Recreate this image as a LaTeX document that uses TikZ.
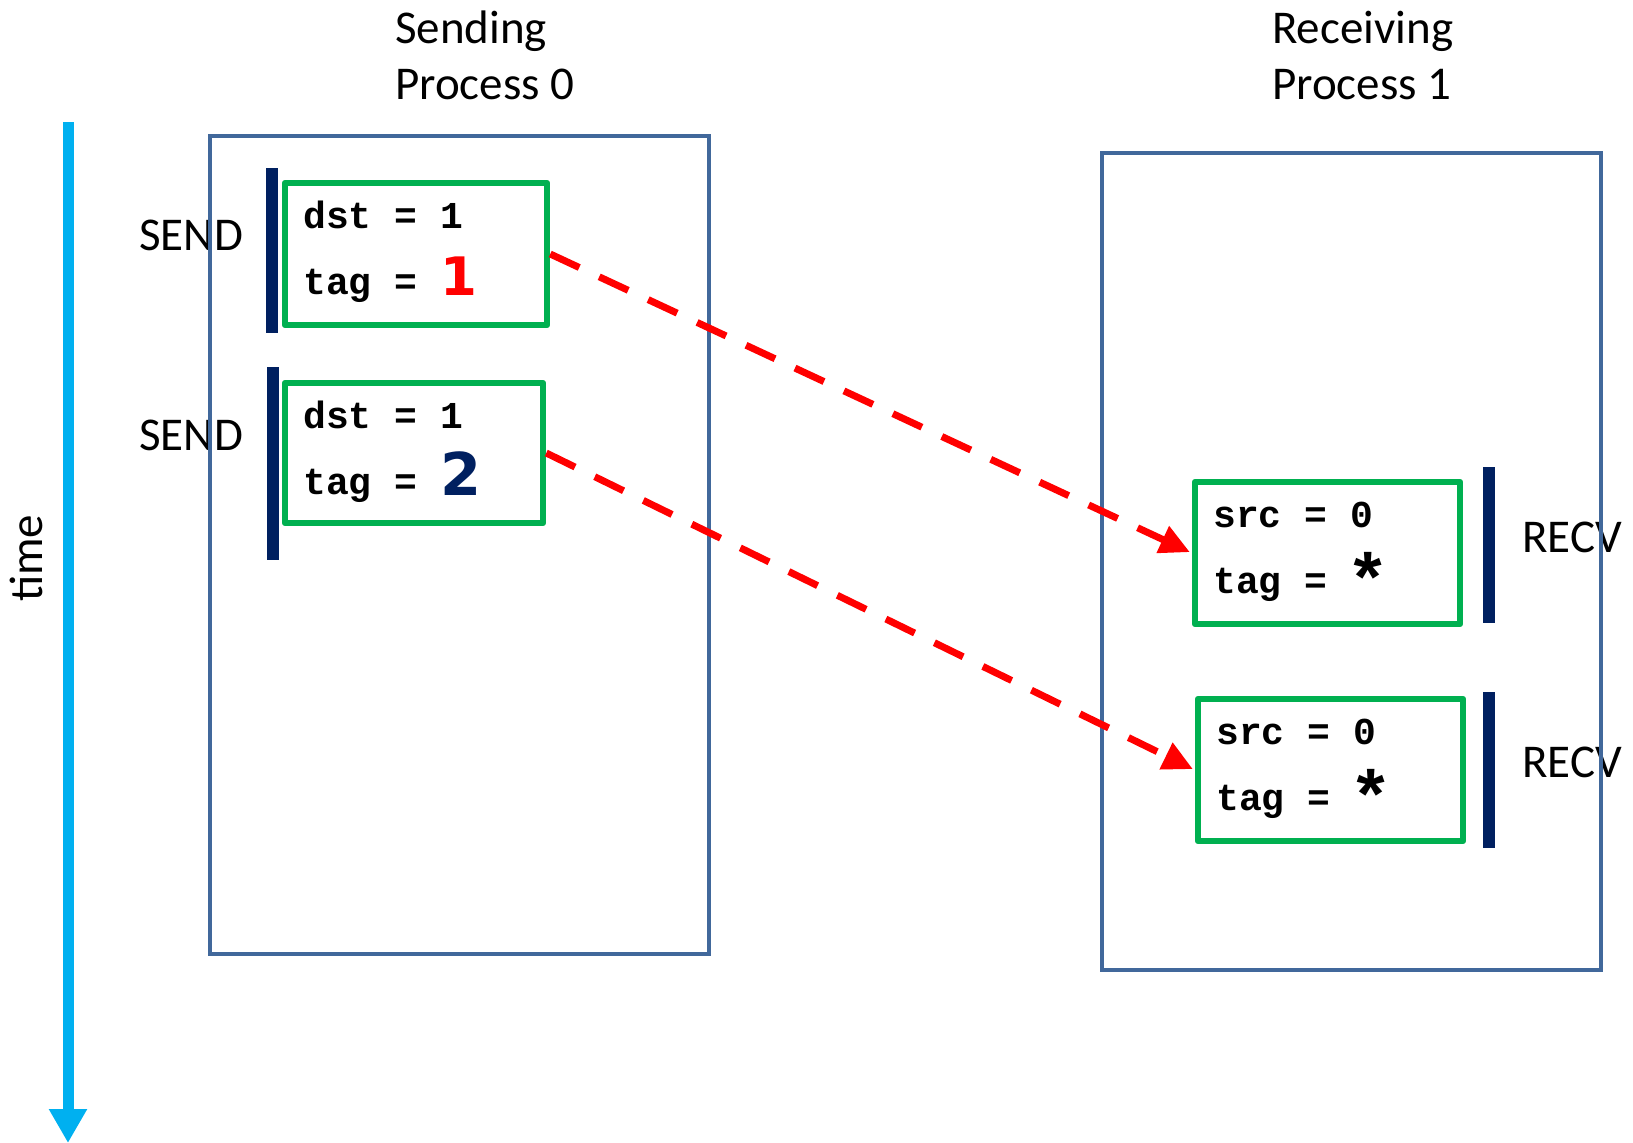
\documentclass[tikz,border=0pt]{standalone}
\usepackage{fontspec}
\setmainfont{Carlito}
\newfontfamily\monofont{Liberation Mono}
\newfontfamily\numfont{DejaVu Sans}
\usetikzlibrary{arrows.meta}
\definecolor{steel}{RGB}{65,104,155}
\definecolor{navy}{RGB}{0,32,96}
\definecolor{msggreen}{RGB}{0,176,80}
\definecolor{timecyan}{RGB}{0,176,240}
\begin{document}
\begin{tikzpicture}[x={(1pt,0)}, y={(0,-1pt)},
  procbox/.style={draw=steel, line width=4pt, rectangle, inner sep=0pt},
  msgbox/.style={draw=msggreen, fill=white, line width=6.5pt, rectangle, inner sep=0pt, line join=round},
  bar/.style={draw=navy, line width=12pt},
  lbl/.style={font={\fontsize{47}{56}\selectfont}, inner sep=0pt, anchor=base west},
  code/.style={font={\monofont\bfseries\fontsize{38}{40}\selectfont}, inner sep=0pt, anchor=base west},
  msg/.style={draw=red, line width=7pt, dash pattern=on 32pt off 22pt, -{Triangle[length=30pt,width=28pt]}, shorten >=2pt},
  timearrow/.style={draw=timecyan, line width=11pt, -{Triangle[length=34pt,width=36pt]}},
]
\useasboundingbox (0,0) rectangle (1633,1143);

% time axis
\coordinate (t0) at (68,122);
\coordinate (t1) at (68,1143);
\draw[timearrow] (t0) -- (t1);
\node[lbl, rotate=90] (timelbl) at (42,602) {time};

% titles
\node[lbl] (s1) at (395,43) {Sending};
\node[lbl] (s2) at (395,99) {Process 0};
\node[lbl] (r1) at (1272,43) {Receiving};
\node[lbl] (r2) at (1272,99) {Process 1};

% operation labels
\node[lbl] (send1) at (139,250) {SEND};
\node[lbl] (send2) at (139,450) {SEND};
\node[lbl] (recv1) at (1522,552) {RECV};
\node[lbl] (recv2) at (1522,777) {RECV};

% process boxes
\node[procbox, minimum width=499pt, minimum height=818pt] (p0) at (459,545) {};
\node[procbox, minimum width=499pt, minimum height=817pt] (p1) at (1351.5,561.5) {};

% bars
\draw[bar] (272,168) -- (272,333);
\draw[bar] (273,367) -- (273,560);
\draw[bar] (1489,467) -- (1489,623);
\draw[bar] (1489,692) -- (1489,848);

% message boxes
\node[msgbox, minimum width=262pt, minimum height=142pt] (b1) at (416,254) {};
\node[msgbox, minimum width=258pt, minimum height=140pt] (b2) at (414,453) {};
\node[msgbox, minimum width=265pt, minimum height=142pt] (b3) at (1327.5,553) {};
\node[msgbox, minimum width=265pt, minimum height=142pt] (b4) at (1330.5,770) {};

% message box texts
\node[code] (b1a) at (303,228) {dst = 1};
\node[code] (b1b) at (303,294) {tag = \raisebox{-1pt}{\numfont\bfseries\fontsize{53}{56}\selectfont\color{red}1}};
\node[code] (b2a) at (303,428) {dst = 1};
\node[code] (b2b) at (303,494) {tag = \raisebox{-1pt}{\numfont\bfseries\fontsize{59}{62}\selectfont\color{navy}2}};
\node[code] (b3a) at (1213,527) {src = 0};
\node[code] (b3b) at (1213,593) {tag = \kern-4pt\raisebox{-11pt}{\fontsize{72}{74}\selectfont *}};
\node[code] (b4a) at (1216,744) {src = 0};
\node[code] (b4b) at (1216,810) {tag = \kern-4pt\raisebox{-11pt}{\fontsize{72}{74}\selectfont *}};

% messages
\draw[msg] (b1.east) -- (b3.west);
\draw[msg] (b2.east) -- (b4.west);
\end{tikzpicture}
\end{document}
